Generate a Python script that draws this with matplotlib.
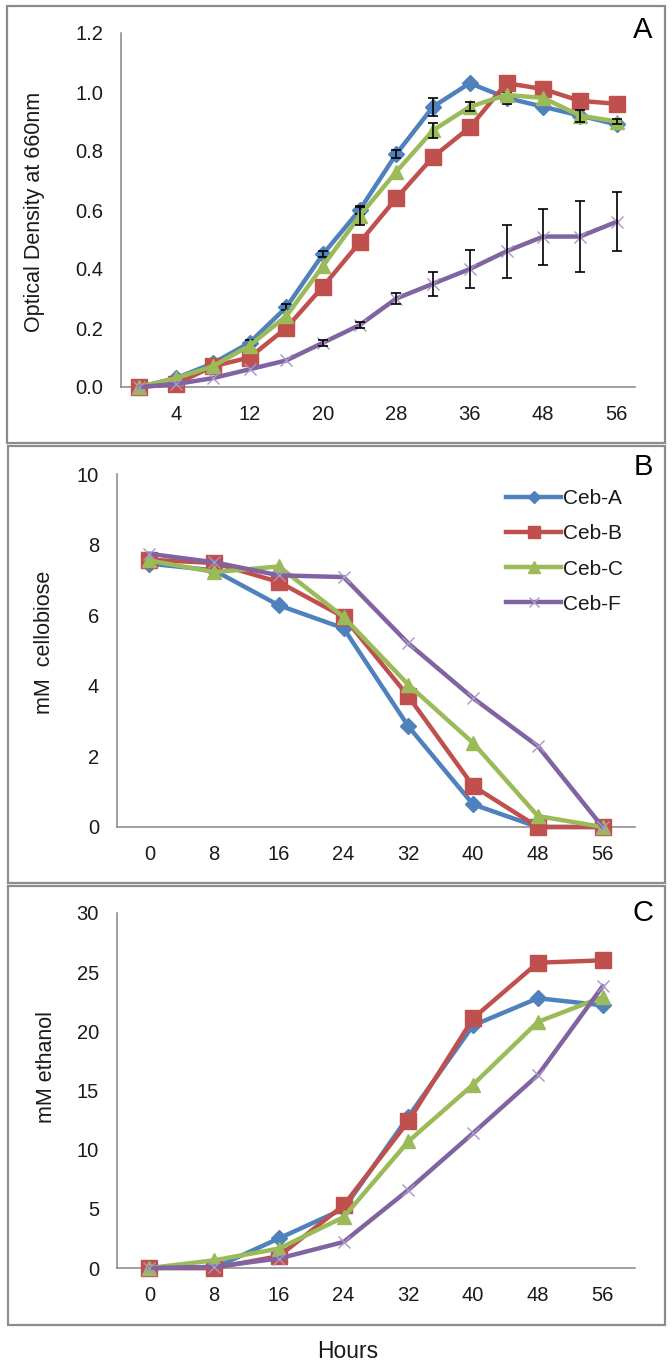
import numpy as np
import matplotlib.pyplot as plt
from matplotlib.patches import Rectangle

# figure size in pixels (dpi 100)
W, H = 672, 1366
plt.rcParams['font.family'] = ['Liberation Sans', 'DejaVu Sans']

# -------------------------------
# DATA
# -------------------------------
series = ['Ceb-A', 'Ceb-B', 'Ceb-C', 'Ceb-F']

# panel A: optical density, sampled every 4 h (one point between 36 and 48)
hours_a = [0, 4, 8, 12, 16, 20, 24, 28, 32, 36, 42, 48, 52, 56]
od_a = [0.0, 0.03, 0.08, 0.15, 0.27, 0.45, 0.60, 0.79, 0.95, 1.03, 0.98, 0.95, 0.92, 0.89]
od_b = [0.0, 0.01, 0.07, 0.10, 0.20, 0.34, 0.49, 0.64, 0.78, 0.88, 1.03, 1.01, 0.97, 0.96]
od_c = [0.0, 0.03, 0.07, 0.14, 0.24, 0.41, 0.58, 0.73, 0.87, 0.95, 0.99, 0.98, 0.92, 0.90]
od_f = [0.0, 0.01, 0.03, 0.06, 0.09, 0.15, 0.21, 0.30, 0.35, 0.40, 0.46, 0.51, 0.51, 0.56]

# standard deviations (0 = too small to see)
err_a = [0, 0, 0.01, 0.01, 0.01, 0.01, 0.015, 0.015, 0.03, 0, 0.02, 0, 0, 0]
err_b = [0, 0, 0, 0, 0, 0, 0, 0, 0, 0, 0, 0, 0, 0]
err_c = [0, 0, 0, 0, 0, 0, 0.03, 0, 0.025, 0.015, 0, 0, 0.02, 0.01]
err_f = [0, 0, 0, 0, 0, 0.01, 0.01, 0.02, 0.04, 0.065, 0.09, 0.095, 0.12, 0.10]

# panels B and C: every 8 h
hours_bc = [0, 8, 16, 24, 32, 40, 48, 56]
cel_a = [7.46, 7.27, 6.28, 5.63, 2.85, 0.64, 0.0, 0.0]
cel_b = [7.57, 7.48, 6.94, 5.95, 3.70, 1.16, 0.0, 0.0]
cel_c = [7.55, 7.22, 7.38, 5.95, 4.03, 2.38, 0.31, 0.0]
cel_f = [7.74, 7.50, 7.13, 7.08, 5.20, 3.65, 2.29, 0.0]

eth_a = [0.0, 0.0, 2.5, 5.0, 12.8, 20.5, 22.8, 22.2]
eth_b = [0.0, 0.0, 1.0, 5.3, 12.4, 21.1, 25.8, 26.0]
eth_c = [0.0, 0.65, 1.64, 4.3, 10.7, 15.5, 20.8, 22.9]
eth_f = [0.0, 0.1, 0.8, 2.2, 6.6, 11.4, 16.3, 23.8]

# -------------------------------
# STYLE
# -------------------------------
colors = ['#4F81BD', '#C0504D', '#9BBB59', '#8064A2']
markers = ['D', 's', '^', 'x']
msizes = [8, 11, 10, 9]
mcolors = ['#4F81BD', '#C0504D', '#9BBB59', '#A995C8']
GRAY = '#868686'
TXT = '#1a1a1a'


def add_axes(fig, l, t, r, b):
    return fig.add_axes([l / W, 1 - b / H, (r - l) / W, (b - t) / H])


def style(ax, ylim, yticks, fmt):
    ax.set_ylim(*ylim)
    ax.set_yticks(yticks)
    ax.set_yticklabels([fmt.format(v) for v in yticks])
    for s in ['top', 'right']:
        ax.spines[s].set_visible(False)
    for s in ['left', 'bottom']:
        ax.spines[s].set_color(GRAY)
        ax.spines[s].set_linewidth(1.1)
    ax.tick_params(length=0, labelsize=14.5, colors=TXT, pad=13)


def draw(ax, x, ys):
    for i, y in enumerate(ys):
        ax.plot(x, y, color=colors[i], lw=3.2, marker=markers[i], ms=msizes[i],
                mfc=mcolors[i], mec=mcolors[i], mew=1.0,
                clip_on=False, zorder=3 + i, label=series[i])


fig = plt.figure(figsize=(W / 100, H / 100), dpi=100)

# panel borders
for (x0, y0, x1, y1) in [(7, 6, 665, 443), (8, 446, 665, 883), (8, 886, 665, 1325)]:
    fig.patches.append(Rectangle((x0 / W, 1 - y1 / H), (x1 - x0) / W, (y1 - y0) / H,
                                 transform=fig.transFigure, fill=False,
                                 edgecolor='#8c8c8c', lw=1.6))

# ---- panel A
axA = add_axes(fig, 121, 33, 635, 387)
xa = np.arange(len(hours_a))
ys_a = [od_a, od_b, od_c, od_f]
errs = [err_a, err_b, err_c, err_f]
draw(axA, xa, ys_a)
for i, (y, e) in enumerate(zip(ys_a, errs)):
    y = np.array(y)
    e = np.array(e)
    m = e > 0
    if m.any():
        axA.errorbar(xa[m], y[m], yerr=e[m], fmt='none', ecolor='black',
                     elinewidth=1.2, capsize=3.6, capthick=1.2, zorder=3 + i + 0.5)
axA.set_xlim(-0.5, len(hours_a) - 0.5)
axA.set_xticks(xa[1::2])
axA.set_xticklabels([str(h) for h in hours_a[1::2]])
style(axA, (0, 1.2), [0, 0.2, 0.4, 0.6, 0.8, 1.0, 1.2], '{:.1f}')

# ---- panel B
xb = np.arange(len(hours_bc))
axB = add_axes(fig, 117, 474, 635, 827)
draw(axB, xb, [cel_a, cel_b, cel_c, cel_f])
axB.set_xlim(-0.5, len(hours_bc) - 0.5)
axB.set_xticks(xb)
axB.set_xticklabels([str(h) for h in hours_bc])
style(axB, (0, 10), [0, 2, 4, 6, 8, 10], '{:d}')
axB.legend(loc='upper left', bbox_to_anchor=(506 / W, 1 - 489 / H),
           bbox_transform=fig.transFigure, frameon=False, fontsize=15,
           handlelength=2.65, handletextpad=0.1, labelspacing=0.78,
           borderpad=0, borderaxespad=0, labelcolor=TXT, markerscale=0.8)

# ---- panel C
axC = add_axes(fig, 117, 913, 635, 1268)
draw(axC, xb, [eth_a, eth_b, eth_c, eth_f])
axC.set_xlim(-0.5, len(hours_bc) - 0.5)
axC.set_xticks(xb)
axC.set_xticklabels([str(h) for h in hours_bc])
style(axC, (0, 30), [0, 5, 10, 15, 20, 25, 30], '{:d}')

# axis titles and panel letters
fig.text(35 / W, 1 - 212 / H, 'Optical Density at 660nm', rotation=90,
         ha='center', va='center', fontsize=15.5, color=TXT)
fig.text(44 / W, 1 - 642 / H, 'mM  cellobiose', rotation=90,
         ha='center', va='center', fontsize=15.5, color=TXT)
fig.text(47 / W, 1 - 1067 / H, 'mM ethanol', rotation=90,
         ha='center', va='center', fontsize=15.5, color=TXT)
fig.text(348 / W, 1 - 1352 / H, 'Hours', ha='center', va='center',
         fontsize=16.5, color=TXT)
for letter, y in [('A', 30), ('B', 467), ('C', 913)]:
    fig.text(643 / W, 1 - y / H, letter, ha='center', va='center',
             fontsize=21, color='black')

fig.savefig('out.png', dpi=100)
